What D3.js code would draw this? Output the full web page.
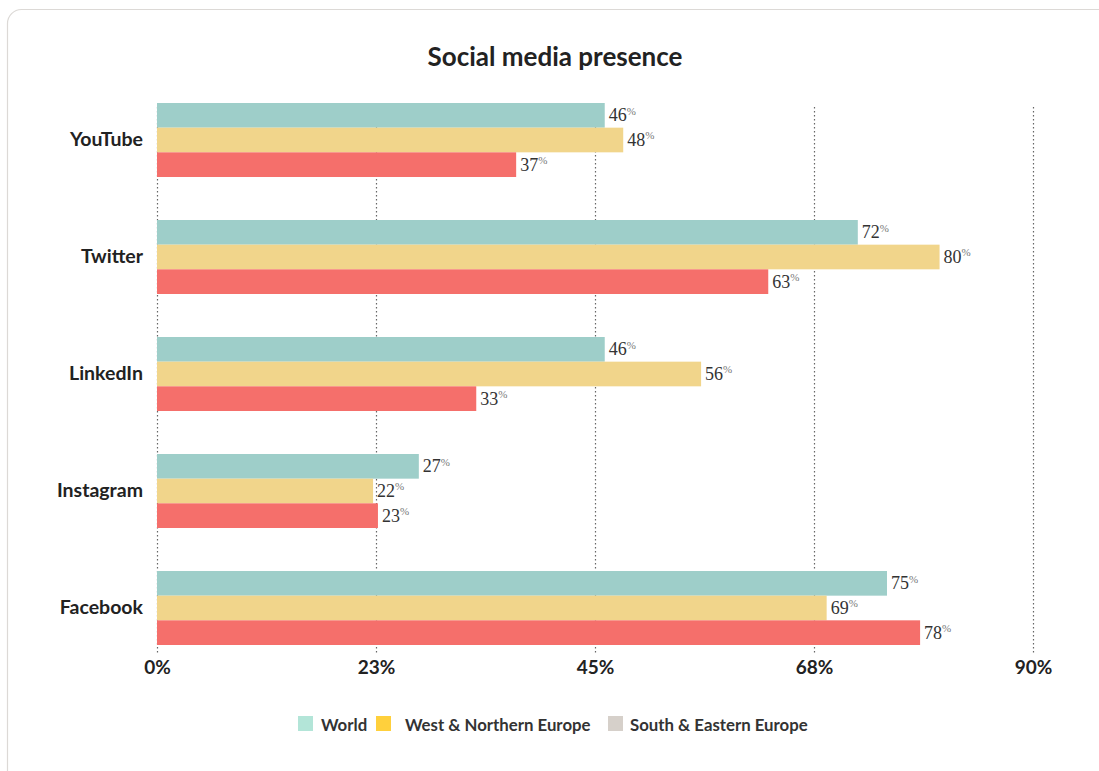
<!DOCTYPE html>
<html>
<head>
<meta charset="utf-8">
<script src="https://cdn.jsdelivr.net/npm/d3@7/dist/d3.min.js"></script>
<style>
  html, body { margin: 0; padding: 0; background: #fff; }
  svg { display: block; }
</style>
</head>
<body>
<svg id="chart" width="1099" height="771"></svg>
<script>
const categories = ["YouTube", "Twitter", "LinkedIn", "Instagram", "Facebook"];
const seriesNames = ["World", "West & Northern Europe", "South & Eastern Europe"];
const worldValues = [46.0, 72.0, 46.0, 26.9, 75.0];
const westNorthValues = [47.9, 80.4, 55.9, 22.2, 68.8];
const southEastValues = [36.9, 62.8, 32.8, 22.7, 78.4];
const tickValues = [0, 22.5, 45, 67.5, 90];
const barColors = ["#9ECEC9", "#F1D58B", "#F56F6B"];
const legendColors = ["#B3E5D8", "#FFD03C", "#D6D0CA"];

const seriesValues = [worldValues, westNorthValues, southEastValues];
const rows = categories.map((c, i) => ({
  category: c,
  values: seriesNames.map((s, j) => ({ series: s, idx: j, value: seriesValues[j][i] }))
}));

const svg = d3.select("#chart");
const sans = "Lato, 'Open Sans', sans-serif";

// card
svg.append("rect")
  .attr("x", 7.5).attr("y", 9.5)
  .attr("width", 1120).attr("height", 790)
  .attr("rx", 14)
  .attr("fill", "#fff")
  .attr("stroke", "#dcd9d6")
  .attr("stroke-width", 1.2);

// title
svg.append("text")
  .attr("x", 555).attr("y", 66)
  .attr("text-anchor", "middle")
  .attr("font-family", sans)
  .attr("font-weight", 700)
  .attr("font-size", 26)
  .attr("fill", "#222")
  .text("Social media presence");

const x = d3.scaleLinear().domain([0, 90]).range([157, 1033]);
const y0 = d3.scaleBand().domain(categories).range([81.5, 666.5]).paddingInner(0.3675).paddingOuter(0.18375);
const y1 = d3.scaleBand().domain(seriesNames).range([0, y0.bandwidth()]).padding(0);

// gridlines
svg.append("g").selectAll("line")
  .data(tickValues)
  .join("line")
  .attr("x1", d => x(d) + 0.5).attr("x2", d => x(d) + 0.5)
  .attr("y1", 107).attr("y2", 654)
  .attr("stroke", "#666")
  .attr("stroke-width", 1.2)
  .attr("stroke-dasharray", "1.5,2.5");

// x axis labels
const xAxis = d3.axisBottom(x)
  .tickValues(tickValues)
  .tickSize(0)
  .tickPadding(0)
  .tickFormat(d => d3.format(".0f")(d) + "%");
const gx = svg.append("g").attr("transform", "translate(0,660)").call(xAxis);
gx.select(".domain").remove();
gx.selectAll("text")
  .attr("font-family", sans)
  .attr("font-weight", 700)
  .attr("font-size", 19)
  .attr("fill", "#222")
  .attr("dy", "0.71em");

// y axis labels
const yAxis = d3.axisLeft(y0).tickSize(0).tickPadding(0);
const gy = svg.append("g").attr("transform", "translate(143,0)").call(yAxis);
gy.select(".domain").remove();
gy.selectAll("text")
  .attr("font-family", sans)
  .attr("font-weight", 700)
  .attr("font-size", 19.5)
  .attr("fill", "#222");

// bars
const groups = svg.append("g").selectAll("g")
  .data(rows)
  .join("g")
  .attr("transform", d => `translate(0,${y0(d.category)})`);

groups.selectAll("rect")
  .data(d => d.values)
  .join("rect")
  .attr("x", x(0))
  .attr("y", d => y1(d.series))
  .attr("width", d => x(d.value) - x(0))
  .attr("height", y1.bandwidth())
  .attr("fill", d => barColors[d.idx]);

const lbl = groups.selectAll("text.val")
  .data(d => d.values)
  .join("text")
  .attr("class", "val")
  .attr("x", d => x(d.value) + 4)
  .attr("y", d => y1(d.series) + y1.bandwidth() / 2 + 6)
  .attr("font-family", "'Liberation Serif', 'DejaVu Serif', serif")
  .attr("font-size", 18)
  .attr("fill", "#333");
lbl.append("tspan").text(d => Math.round(d.value));
lbl.append("tspan")
  .attr("font-size", 11)
  .attr("fill", "#777")
  .attr("dy", -6.5)
  .text("%");

// legend
const legendItems = [
  { name: seriesNames[0], sx: 298, tx: 321 },
  { name: seriesNames[1], sx: 376, tx: 405 },
  { name: seriesNames[2], sx: 608, tx: 630 }
];
const lg = svg.append("g").selectAll("g")
  .data(legendItems)
  .join("g");
lg.append("rect")
  .attr("x", d => d.sx).attr("y", 716)
  .attr("width", 15).attr("height", 15)
  .attr("fill", (d, i) => legendColors[i]);
lg.append("text")
  .attr("x", d => d.tx).attr("y", 731)
  .attr("font-family", sans)
  .attr("font-weight", 700)
  .attr("font-size", 16.8)
  .attr("fill", "#333")
  .text(d => d.name);
</script>
</body>
</html>
